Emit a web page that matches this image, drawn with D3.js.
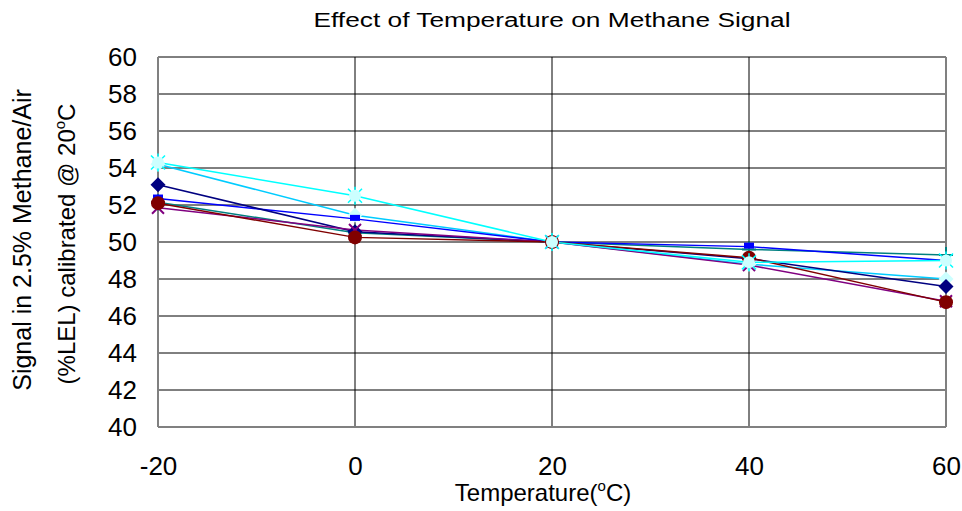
<!DOCTYPE html>
<html>
<head>
<meta charset="utf-8">
<script src="https://cdn.jsdelivr.net/npm/d3@7"></script>
<style>
  body{margin:0;background:#fff}
  text{font-family:"Liberation Sans",Arial,sans-serif;fill:#000}
</style>
</head>
<body>
<svg id="chart" width="962" height="511"></svg>
<script>
// temperatures (x)
const temps=[-20,0,20,40,60]
const yTicks=[40,42,44,46,48,50,52,54,56,58,60]
// signal readings per sensor
const navySeries=[53.1,50.55,50,49.1,47.6]
const blueSeries=[52.35,51.25,50,49.75,49.0]
const tealSeries=[52.15,50.5,50,49.6,49.3]
const purpleSeries=[51.85,50.65,50,48.75,46.8]
const maroonSeries=[52.1,50.25,50,49.15,46.75]
const cyanSeries=[54.3,52.5,50,48.9,49.0]
const skySeries=[54.2,51.45,50,48.8,48.0]

const series=[
  {name:'sky',values:skySeries,color:'#00ccff',marker:'diamond',fill:'#ccffff'},
  {name:'teal',values:tealSeries,color:'#008080',marker:'plus',fill:'#008080'},
  {name:'blue',values:blueSeries,color:'#0000ff',marker:'square',fill:'#0000ff'},
  {name:'navy',values:navySeries,color:'#000080',marker:'diamond',fill:'#000080'},
  {name:'purple',values:purpleSeries,color:'#800080',marker:'cross',fill:'#800080'},
  {name:'maroon',values:maroonSeries,color:'#800000',marker:'circle',fill:'#800000'},
  {name:'cyan',values:cyanSeries,color:'#00ffff',marker:'star',fill:'#ccffff'}
]

const svg=d3.select('#chart')
const plotL=158,plotR=946,plotT=57,plotB=427

const x=d3.scaleLinear().domain([-20,60]).range([plotL,plotR])
const y=d3.scaleLinear().domain([40,60]).range([plotB,plotT])

// grid
svg.append('g').selectAll('line').data(yTicks).join('line')
  .attr('x1',plotL).attr('x2',plotR)
  .attr('y1',d=>y(d)).attr('y2',d=>y(d))
  .attr('stroke','#000').attr('stroke-width',1)
svg.append('g').selectAll('line').data(temps).join('line')
  .attr('x1',d=>x(d)).attr('x2',d=>x(d))
  .attr('y1',plotT).attr('y2',plotB)
  .attr('stroke',(d,i)=>(i===0||i===temps.length-1)?'#808080':'#000')
  .attr('stroke-width',(d,i)=>(i===0||i===temps.length-1)?2:1)
svg.append('line').attr('x1',plotL).attr('x2',plotR).attr('y1',plotB).attr('y2',plotB)
  .attr('stroke','#808080').attr('stroke-width',2)

// axes
const yAxis=d3.axisLeft(y).tickValues(yTicks).tickSize(0).tickPadding(21)
const gy=svg.append('g').attr('transform',`translate(${plotL},0)`).call(yAxis)
gy.select('.domain').remove()
gy.selectAll('text').attr('font-size',26).attr('font-family','Liberation Sans, Arial, sans-serif')

const xAxis=d3.axisBottom(x).tickValues(temps).tickFormat(d=>String(d)).tickSize(0).tickPadding(30)
const gx=svg.append('g').attr('transform',`translate(0,${plotB})`).call(xAxis)
gx.select('.domain').remove()
gx.selectAll('text').attr('font-size',26).attr('font-family','Liberation Sans, Arial, sans-serif')

// lines
const line=d3.line().x((d,i)=>x(temps[i])).y(d=>y(d))
series.forEach(s=>{
  svg.append('path').datum(s.values)
    .attr('fill','none').attr('stroke',s.color).attr('stroke-width',1.5)
    .attr('d',line)
})

// markers
function drawMarker(g,s,cx,cy){
  const c=s.color
  if(s.marker==='diamond'){
    g.append('path').attr('d',`M${cx},${cy-7.5}L${cx+7.5},${cy}L${cx},${cy+7.5}L${cx-7.5},${cy}Z`).attr('fill',s.fill)
  }else if(s.marker==='square'){
    g.append('rect').attr('x',cx-5).attr('y',cy-4).attr('width',10).attr('height',6).attr('fill',c)
  }else if(s.marker==='circle'){
    g.append('circle').attr('cx',cx).attr('cy',cy).attr('r',7).attr('fill',c)
  }else if(s.marker==='plus'){
    g.append('path').attr('d',`M${cx-7},${cy}H${cx+7}M${cx},${cy-8}V${cy+8}`).attr('stroke',c).attr('stroke-width',2)
  }else if(s.marker==='cross'){
    g.append('path').attr('d',`M${cx-6},${cy-6}L${cx+6},${cy+6}M${cx-6},${cy+6}L${cx+6},${cy-6}`).attr('stroke',c).attr('stroke-width',2)
  }else if(s.marker==='star'){
    g.append('path').attr('d',`M${cx-7},${cy-7}L${cx+7},${cy+7}M${cx-7},${cy+7}L${cx+7},${cy-7}M${cx},${cy-9}V${cy+9}`).attr('stroke',c).attr('stroke-width',1.5)
    g.append('circle').attr('cx',cx).attr('cy',cy).attr('r',6).attr('fill',s.fill)
  }
}
series.forEach(s=>{
  const g=svg.append('g')
  s.values.forEach((v,i)=>drawMarker(g,s,x(temps[i]),y(v)))
})

// titles
svg.append('text').attr('x',552).attr('y',27).attr('text-anchor','middle')
  .attr('font-size',20).attr('textLength',477).attr('lengthAdjust','spacingAndGlyphs')
  .text('Effect of Temperature on Methane Signal')

const xt=svg.append('text').attr('x',543).attr('y',501).attr('text-anchor','middle').attr('font-size',24)
xt.append('tspan').text('Temperature(')
xt.append('tspan').attr('font-size',15).attr('dy',-10).text('o')
xt.append('tspan').attr('dy',10).text('C)')

svg.append('text').attr('transform','translate(31,240) rotate(-90)').attr('text-anchor','middle')
  .attr('font-size',25).text('Signal in 2.5% Methane/Air')
const yt=svg.append('text').attr('transform','translate(75,244) rotate(-90)').attr('text-anchor','middle').attr('font-size',24)
yt.append('tspan').text('(%LEL) calibrated @ 20')
yt.append('tspan').attr('font-size',15).attr('dy',-10).text('o')
yt.append('tspan').attr('dy',10).text('C')
</script>
</body>
</html>
